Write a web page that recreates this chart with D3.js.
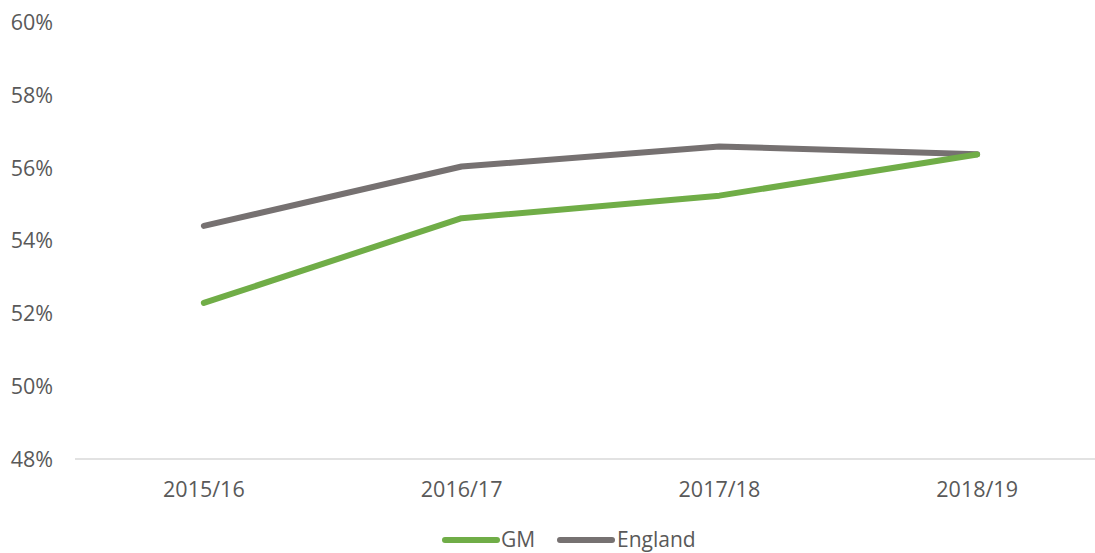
<!DOCTYPE html>
<html>
<head>
<meta charset="utf-8">
<script src="https://cdn.jsdelivr.net/npm/d3@7"></script>
<style>
  html, body { margin: 0; padding: 0; background: #fff; }
  svg { display: block; }
  text { font-family: "Open Sans", sans-serif; fill: #595959; }
</style>
</head>
<body>
<svg id="chart" width="1095" height="553"></svg>
<script>
// Share of population, by year
const years = ["2015/16", "2016/17", "2017/18", "2018/19"];
const gmValues = [52.29, 54.62, 55.24, 56.37];
const englandValues = [54.41, 56.04, 56.59, 56.38];
const yTicks = [48, 50, 52, 54, 56, 58, 60];
const seriesNames = ["GM", "England"];
const seriesColors = ["#70AD47", "#767171"];

const series = [
  { name: seriesNames[0], color: seriesColors[0], values: gmValues },
  { name: seriesNames[1], color: seriesColors[1], values: englandValues }
];

const svg = d3.select("#chart");
const W = 1095;

const x = d3.scaleBand().domain(years).range([75, 1106]);
const y = d3.scaleLinear().domain([48, 60]).range([459, 22.5]);

// Baseline axis
svg.append("line")
  .attr("x1", 75).attr("x2", W)
  .attr("y1", y(48)).attr("y2", y(48))
  .attr("stroke", "#d9d9d9").attr("stroke-width", 1.5);

// Y tick labels
svg.append("g").selectAll("text")
  .data(yTicks).join("text")
  .attr("x", 53)
  .attr("y", d => y(d))
  .attr("dy", "0.35em")
  .attr("text-anchor", "end")
  .style("font-size", "21.5px")
  .text(d => d + "%");

// X tick labels
svg.append("g").selectAll("text")
  .data(years).join("text")
  .attr("x", d => x(d) + x.bandwidth() / 2)
  .attr("y", 497)
  .attr("text-anchor", "middle")
  .style("font-size", "21.5px")
  .text(d => d);

// Lines
const line = d3.line()
  .x((d, i) => x(years[i]) + x.bandwidth() / 2)
  .y(d => y(d));

svg.append("g").selectAll("path")
  .data(series.slice().reverse()).join("path")
  .attr("d", d => line(d.values))
  .attr("fill", "none")
  .attr("stroke", d => d.color)
  .attr("stroke-width", 6)
  .attr("stroke-linecap", "round")
  .attr("stroke-linejoin", "round");

// Legend
const legendY = 540;
const legendItems = [
  { s: series[0], x0: 445, x1: 497, tx: 501 },
  { s: series[1], x0: 560, x1: 612, tx: 617 }
];
const lg = svg.append("g");
legendItems.forEach(it => {
  lg.append("line")
    .attr("x1", it.x0).attr("x2", it.x1)
    .attr("y1", legendY).attr("y2", legendY)
    .attr("stroke", it.s.color).attr("stroke-width", 6)
    .attr("stroke-linecap", "round");
  lg.append("text")
    .attr("x", it.tx).attr("y", legendY)
    .attr("dy", "0.35em")
    .style("font-size", "21px")
    .text(it.s.name);
});
</script>
</body>
</html>
